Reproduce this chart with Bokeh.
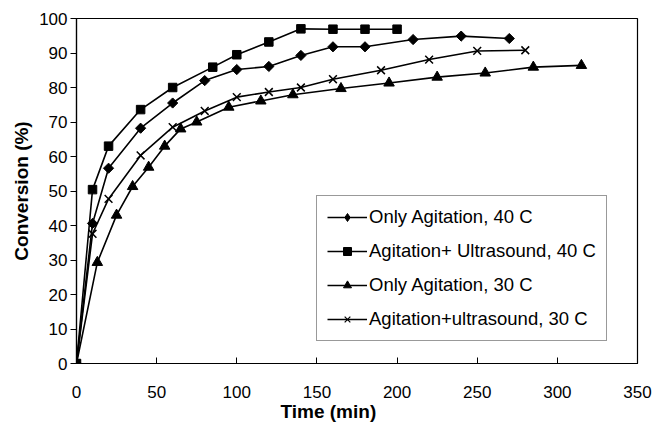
import math
from bokeh.plotting import figure
from bokeh.models import Range1d, FixedTicker, Legend, LegendItem, Title
from bokeh.embed import file_html
from bokeh.resources import INLINE

# Data
t_ag40 = [0, 10, 20, 40, 60, 80, 100, 120, 140, 160, 180, 210, 240, 270]
c_ag40 = [0, 40.6, 56.6, 68.2, 75.5, 82.0, 85.2, 86.1, 89.3, 91.8, 91.8, 93.9, 94.9, 94.2]

t_us40 = [0, 10, 20, 40, 60, 85, 100, 120, 140, 160, 180, 200]
c_us40 = [0, 50.4, 63.0, 73.6, 80.0, 85.9, 89.5, 93.2, 97.0, 96.9, 96.9, 96.9]

t_ag30 = [0, 13, 25, 35, 45, 55, 65, 75, 95, 115, 135, 165, 195, 225, 255, 285, 315]
c_ag30 = [0, 29.3, 43.0, 51.3, 56.9, 63.0, 68.0, 70.0, 74.3, 76.1, 77.9, 79.7, 81.3, 83.0, 84.2, 85.9, 86.4]

t_us30 = [0, 10, 20, 40, 60, 80, 100, 120, 140, 160, 190, 220, 250, 280]
c_us30 = [0, 37.6, 47.7, 60.3, 68.5, 73.2, 77.2, 78.7, 80.0, 82.4, 85.0, 88.1, 90.6, 90.8]

labels = ["Only Agitation, 40 C", "Agitation+ Ultrasound, 40 C",
          "Only Agitation, 30 C", "Agitation+ultrasound, 30 C"]

x_ticks = [0, 50, 100, 150, 200, 250, 300, 350]
y_ticks = [0, 10, 20, 30, 40, 50, 60, 70, 80, 90, 100]

FONT = "Liberation Sans"

p = figure(width=654, height=426, output_backend="svg", toolbar_location=None,
           x_range=Range1d(0, 350), y_range=Range1d(0, 100),
           min_border_left=76, min_border_right=17, min_border_top=18, min_border_bottom=63)
p.background_fill_color = "white"
p.border_fill_color = "white"
p.grid.visible = False
p.outline_line_color = "black"
p.outline_line_width = 1.2

# axes
p.xaxis.ticker = FixedTicker(ticks=x_ticks)
p.yaxis.ticker = FixedTicker(ticks=y_ticks)
for ax in (p.xaxis, p.yaxis):
    ax.axis_line_color = "black"
    ax.axis_line_width = 1.2
    ax.major_tick_line_color = "black"
    ax.minor_tick_line_color = None
    ax.major_label_text_font = FONT
    ax.major_label_text_font_size = "17px"
    ax.major_label_text_color = "black"
    ax.axis_label_text_font = FONT
    ax.axis_label_text_font_size = "19px"
    ax.axis_label_text_font_style = "bold"
    ax.axis_label_text_color = "black"

p.xaxis.major_tick_in = 6
p.xaxis.major_tick_out = 0
p.xaxis.major_label_standoff = 22
p.xaxis.axis_label = None

p.yaxis.major_tick_in = 0
p.yaxis.major_tick_out = 6
p.yaxis.major_label_standoff = 3
p.yaxis.axis_label = "Conversion (%)"
p.yaxis.axis_label_standoff = 4

xt = Title(text="Time (min)", align="left", offset=204, text_font=FONT,
           text_font_size="19px", text_font_style="bold", text_color="black",
           standoff=-4)
p.add_layout(xt, "below")

LW = 1.6
r1l = p.line(t_ag40, c_ag40, line_color="black", line_width=LW)
p.scatter(t_ag40, c_ag40, marker="square", size=7.2, angle=math.pi / 4, color="black")
r2l = p.line(t_us40, c_us40, line_color="black", line_width=LW)
p.scatter(t_us40, c_us40, marker="square", size=8.5, color="black")
r3l = p.line(t_ag30, c_ag30, line_color="black", line_width=LW)
p.scatter(t_ag30, c_ag30, marker="triangle", size=10.5, color="black")
r4l = p.line(t_us30, c_us30, line_color="black", line_width=LW)
p.scatter(t_us30, c_us30, marker="x", size=11, line_color="black", line_width=1.5)

# smaller legend markers, drawn only at each series' first (origin) point
k1 = p.scatter(t_ag40[:1], c_ag40[:1], marker="diamond", size=9, color="black")
k2 = p.scatter(t_us40[:1], c_us40[:1], marker="square", size=5.5, color="black")
k3 = p.scatter(t_ag30[:1], c_ag30[:1], marker="triangle", size=7.5, color="black")
k4 = p.scatter(t_us30[:1], c_us30[:1], marker="x", size=7, line_color="black", line_width=1.2)

legend = Legend(items=[
    LegendItem(label=labels[0], renderers=[r1l, k1]),
    LegendItem(label=labels[1], renderers=[r2l, k2]),
    LegendItem(label=labels[2], renderers=[r3l, k3]),
    LegendItem(label=labels[3], renderers=[r4l, k4]),
], location=(240, 22))
legend.label_text_font = FONT
legend.label_text_font_size = "18.5px"
legend.label_text_color = "black"
legend.border_line_color = "#333333"
legend.border_line_width = 1
legend.background_fill_color = "white"
legend.padding = 10
legend.margin = 0
legend.spacing = 12
legend.label_height = 20
legend.glyph_height = 20
legend.glyph_width = 40
legend.label_standoff = 2
p.add_layout(legend, "center")

open("out.html", "w").write(file_html(p, INLINE))
